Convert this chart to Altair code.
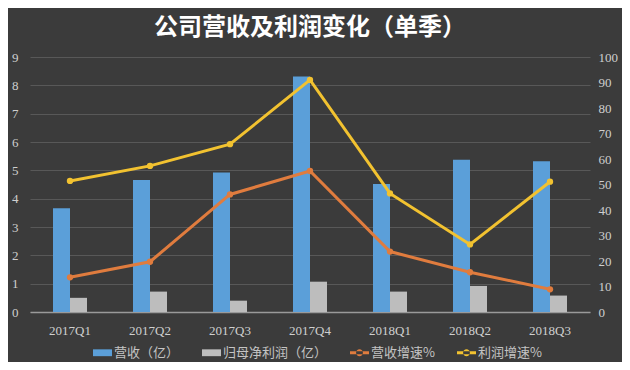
import altair as alt
import pandas as pd

quarters = ["2017Q1", "2017Q2", "2017Q3", "2017Q4", "2018Q1", "2018Q2", "2018Q3"]
revenue = [3.66, 4.66, 4.92, 8.31, 4.52, 5.37, 5.32]
net_profit = [0.50, 0.72, 0.40, 1.07, 0.72, 0.92, 0.58]
revenue_growth = [13.6, 19.7, 46.1, 55.3, 23.7, 15.6, 8.9]
profit_growth = [51.4, 57.3, 65.8, 91.0, 46.5, 26.5, 51.1]

series_names = ["营收（亿）", "归母净利润（亿）", "营收增速%", "利润增速%"]
series_colors = ["#5b9fd9", "#bdbdbd", "#e07c3e", "#f2c230"]

bar_df = pd.DataFrame({
    "quarter": quarters * 2,
    "series": [series_names[0]] * 7 + [series_names[1]] * 7,
    "value": revenue + net_profit,
})
line_df = pd.DataFrame({
    "quarter": quarters * 2,
    "series": [series_names[2]] * 7 + [series_names[3]] * 7,
    "value": revenue_growth + profit_growth,
})
legend_df = pd.DataFrame({"series": series_names})

rect_path = "M-1,-0.36H1V0.36H-1Z"
line_path = ("M-1,-0.15H1V0.15H-1Z "
             "M-0.36,0A0.36,0.36 0 1,0 0.36,0A0.36,0.36 0 1,0 -0.36,0Z")

color_scale = alt.Scale(domain=series_names, range=series_colors)
tick_font = "Liberation Serif"
cjk_font = "Noto Sans CJK SC"
label_color = "#cfcfcf"

x_enc = alt.X(
    "quarter:N", sort=quarters, title=None,
    scale=alt.Scale(paddingInner=0.575, paddingOuter=0.2875),
    axis=alt.Axis(labelAngle=0, labelFont=tick_font, labelFontSize=13,
                  labelColor=label_color, domainColor="#9a9a9a",
                  domainWidth=1.5, ticks=False, labelPadding=12),
)

bars = alt.Chart(bar_df).mark_bar().encode(
    x=x_enc,
    xOffset=alt.XOffset("series:N", sort=series_names[:2]),
    y=alt.Y("value:Q", title=None,
            scale=alt.Scale(domain=[0, 9], nice=False),
            axis=alt.Axis(orient="left", values=list(range(10)),
                          labelFont=tick_font, labelFontSize=13,
                          labelColor=label_color, domain=False, ticks=False,
                          grid=True, gridColor="#585858", labelPadding=12)),
    color=alt.Color("series:N", scale=color_scale, legend=None),
)

y_right = alt.Y("value:Q", title=None,
                scale=alt.Scale(domain=[0, 100], nice=False),
                axis=alt.Axis(orient="right", values=list(range(0, 101, 10)),
                              labelFont=tick_font, labelFontSize=13,
                              labelColor=label_color, domain=False,
                              ticks=False, grid=False, labelPadding=8))

lines = alt.Chart(line_df).mark_line(strokeWidth=3).encode(
    x=x_enc,
    y=y_right,
    color=alt.Color("series:N", scale=color_scale, legend=None),
)
points = alt.Chart(line_df).mark_point(filled=True, size=40, opacity=1).encode(
    x=x_enc,
    y=y_right,
    color=alt.Color("series:N", scale=color_scale, legend=None),
)
right = alt.layer(lines, points)

legend_kw = dict(orient="none", direction="horizontal", legendX=63, legendY=286)
legend_layer = alt.Chart(legend_df).mark_point(filled=True, opacity=0).encode(
    color=alt.Color("series:N", scale=color_scale, title=None,
                    legend=alt.Legend(**legend_kw)),
    shape=alt.Shape("series:N", title=None,
                    scale=alt.Scale(domain=series_names,
                                    range=[rect_path, rect_path, line_path, line_path]),
                    legend=alt.Legend(**legend_kw)),
)

chart = alt.layer(legend_layer, bars, right).resolve_scale(
    y="independent"
).properties(
    width=560,
    height=255,
    autosize=alt.AutoSizeParams(type="none"),
    padding={"left": 22, "top": 49, "right": 32, "bottom": 50},
    background="#3b3b3b",
    title=alt.TitleParams(
        "公司营收及利润变化（单季）", font=cjk_font, fontSize=24,
        fontWeight="bold", color="#ffffff", anchor="middle", offset=11,
    ),
).configure_view(
    strokeWidth=0
).configure_legend(
    labelFont=cjk_font, labelFontSize=13, labelColor="#c4c4c4",
    symbolSize=361, symbolOpacity=1, symbolStrokeWidth=0,
    columnPadding=22, labelOffset=2, padding=0,
)

chart.save("out.html", embed_options={"renderer": "svg", "actions": False})
